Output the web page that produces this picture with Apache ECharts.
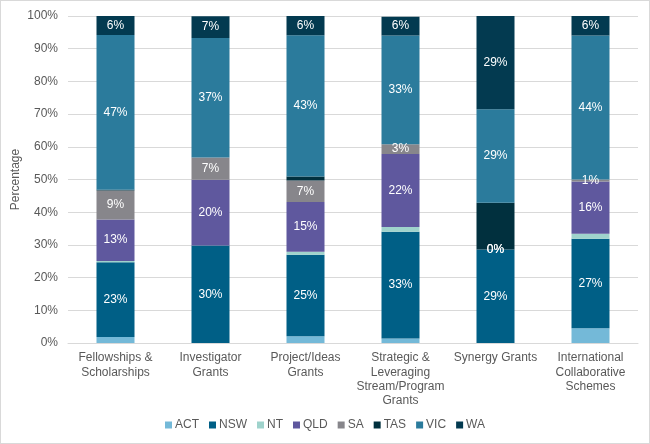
<!DOCTYPE html>
<html>
<head>
<meta charset="utf-8">
<script src="https://cdn.jsdelivr.net/npm/echarts@6/dist/echarts.min.js"></script>
<style>
	html, body { margin: 0; padding: 0; background: #fff; }
	#chart { width: 648px; height: 442px; border: 1px solid #d9d9d9; }
</style>
</head>
<body>
<div id="chart"></div>
<script>
// 类别
var categories = ["Fellowships &\nScholarships", "Investigator\nGrants", "Project/Ideas\nGrants",
	"Strategic &\nLeveraging\nStream/Program\nGrants", "Synergy Grants", "International\nCollaborative\nSchemes"];

// 各州占比 (%)
var ACT = [1.8, 0, 2.1, 1.4, 0, 4.5];
var NSW = [22.9, 29.8, 24.9, 32.6, 28.6, 27.4];
var NT = [0.4, 0, 0.9, 1.5, 0, 1.5];
var QLD = [12.7, 20.1, 15.2, 22.3, 0, 16.0];
var SA = [8.8, 6.8, 6.6, 3.0, 0, 0.6];
var TAS = [0.3, 0, 1.2, 0, 14.3, 0];
var VIC = [47.3, 36.6, 43.2, 33.2, 28.6, 44.0];
var WA = [5.8, 6.6, 5.9, 5.8, 28.5, 6.0];

var yTicks = [0, 10, 20, 30, 40, 50, 60, 70, 80, 90, 100];

var seriesList = [
	{ name: "ACT", data: ACT, color: "#74b9d8", label: false },
	{ name: "NSW", data: NSW, color: "#005f86", label: true },
	{ name: "NT", data: NT, color: "#9fd3cc", label: false },
	{ name: "QLD", data: QLD, color: "#5f589e", label: true },
	{ name: "SA", data: SA, color: "#87868b", label: true },
	{ name: "TAS", data: TAS, color: "#01303e", label: false },
	{ name: "VIC", data: VIC, color: "#2b7b9c", label: true },
	{ name: "WA", data: WA, color: "#033a50", label: true }
];

var myChart = echarts.init(document.getElementById("chart"));

var option = {
	animation: false,
	textStyle: { fontFamily: "Liberation Sans, Arial, sans-serif" },
	color: seriesList.map(function(s) { return s.color; }),
	legend: {
		bottom: 7,
		left: "center",
		itemWidth: 7,
		itemHeight: 7,
		itemGap: 10,
		icon: "rect",
		textStyle: { color: "#595959", fontSize: 12, padding: [0, 0, 0, -2] },
		data: seriesList.map(function(s) { return s.name; })
	},
	grid: {
		left: 67,
		right: 11,
		top: 15,
		bottom: 100,
		containLabel: false,
		outerBoundsMode: "none"
	},
	xAxis: {
		type: "category",
		data: categories,
		axisTick: { show: false },
		axisLine: { lineStyle: { color: "#d9d9d9" } },
		axisLabel: { color: "#595959", fontSize: 12, interval: 0, lineHeight: 14.2, margin: 8 }
	},
	yAxis: {
		type: "value",
		min: yTicks[0],
		max: yTicks[yTicks.length - 1],
		interval: 10,
		name: "Percentage",
		nameLocation: "middle",
		nameGap: 46,
		nameMoveOverlap: false,
		nameTextStyle: { color: "#595959", fontSize: 12 },
		axisLabel: {
			color: "#595959",
			fontSize: 12,
			margin: 10,
			formatter: function(v) { return v + "%"; }
		},
		splitLine: { lineStyle: { color: "#d9d9d9" } },
		axisLine: { show: false },
		axisTick: { show: false }
	},
	series: seriesList.map(function(s) {
		return {
			name: s.name,
			type: "bar",
			stack: "total",
			barCategoryGap: "60%",
			data: s.data,
			itemStyle: { color: s.color },
			label: {
				show: s.label,
				position: "inside",
				color: "#fff",
				fontSize: 12,
				formatter: function(p) { return Math.round(p.value) + "%"; }
			}
		};
	})
};

myChart.setOption(option, true);
</script>
</body>
</html>
